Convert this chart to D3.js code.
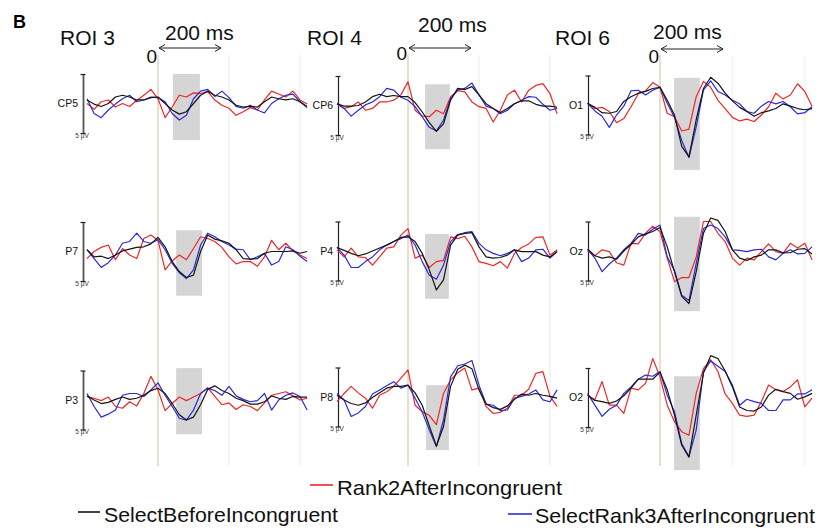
<!DOCTYPE html>
<html>
<head>
<meta charset="utf-8">
<script src="https://cdn.jsdelivr.net/npm/d3@7"></script>
<style>
  html, body { margin: 0; padding: 0; background: #fff; }
  svg { display: block; font-family: "Liberation Sans", Arial, sans-serif; }
</style>
</head>
<body>
<svg id="chart" width="823" height="528"></svg>
<script>
// ---------------- DATA ----------------
const timesMs = [-200,-180,-160,-140,-120,-100,-80,-60,-40,-20,0,20,40,60,80,100,120,140,160,180,200,220,240,260,280,300,320,340,360,380,400,420];
const roiLabels = ["ROI 3", "ROI 4", "ROI 6"];
const channels = ["CP5", "CP6", "O1", "P7", "P4", "Oz", "P3", "P8", "O2"];
const seriesNames = ["SelectBeforeIncongruent", "Rank2AfterIncongruent", "SelectRank3AfterIncongruent"];
const scaleBarLabel = "5 µV";
const scaleBarUv = [-5, 5];
const onsetLabel = "0";
const durationLabel = "200 ms";
const gridMs = [200, 400];

// amplitudes in µV (positive plotted downward)
const cp5Black = [-0.6,0.1,0.5,0,-1.1,-1.4,-1.1,-0.6,-0.6,-1.0,-1.1,0,1.1,1.8,1.4,0,-1.4,-2.1,-1.4,-1.1,-0.6,0.3,0.6,0.5,0.6,-0.3,-1.1,-0.8,-0.6,-0.8,-0.3,0.5];
const cp5Red   = [0,1.0,-0.3,-0.6,0.6,0,0.5,-0.5,-1.4,-2.4,-0.8,2.4,0.6,-1.4,-1.1,-1.8,-1.7,-2.0,-0.6,0.3,0.8,2.0,1.4,0.7,1.1,-0.6,-2.1,-1.6,-1.1,-2.1,-0.6,0.1];
const cp5Blue  = [-0.8,1.7,2.4,1.1,0.1,-0.8,-1.4,-0.3,-0.6,-1.1,-1.0,-0.3,1.7,2.8,2.0,-0.8,-2.1,-2.4,-1.2,-2.1,-1.0,0.5,0.8,0.3,1.1,1.6,0,-0.8,-1.4,-1.6,-0.3,0.7];

const cp6Black = [-0.3,0.1,0.1,0,-0.6,-1.5,-1.9,-1.5,-1.7,-1.5,-1.5,-0.5,1.1,2.9,4.4,3.1,-0.9,-2.9,-2.7,-3.2,-1.8,-0.3,0.5,1.2,0.5,-0.3,-0.8,-0.8,-0.2,0.1,0.1,0.3];
const cp6Red   = [-0.3,0.5,0.2,-0.6,0.8,0.5,-0.6,-0.6,-0.9,-1.8,-4.0,0.8,1.8,1.9,0.8,1.4,-1.5,-2.5,-2.3,-0.6,0.2,0.5,2.8,0.8,-1.8,-2.6,-0.6,-2.6,-3.4,-3.7,-2.0,1.4];
const cp6Blue  = [-0.3,0.5,1.8,0.8,-0.1,-0.6,-1.5,-2.9,-2.6,-1.4,-0.9,0.2,1.9,3.7,4.3,2.5,-1.2,-2.6,-2.9,-3.8,-1.8,0.1,0.5,1.4,0.8,-0.3,-0.9,-1.5,-1.4,-0.2,0.8,0.5];

const o1Black = [-0.3,0.4,1.3,1.4,1.1,-0.6,-1.4,-2.0,-2.3,-2.8,-3.0,-0.8,1.7,7.0,8.8,2.5,-2.8,-4.7,-3.7,-2.0,-0.7,0.4,1.1,1.9,1.3,1.0,0.6,-0.2,0.2,0.6,0.8,0.6];
const o1Red   = [-0.3,0.6,0.4,1.1,3.0,2.3,0.3,-1.9,-2.4,-3.8,-3.0,1.4,2.0,4.4,4.1,-1.4,-4.0,-3.0,-0.8,0.6,2.1,2.7,2.4,2.8,1.7,0.3,-2.0,-1.0,-1.7,-3.6,-2.3,0.2];
const o1Blue  = [-0.3,1.0,1.9,3.8,1.7,0.2,-2.4,-2.5,-1.7,-2.5,-3.0,-0.3,2.1,6.0,8.9,3.7,-2.5,-4.1,-2.3,-1.7,-0.8,-0.2,1.1,1.4,0.2,-0.6,-0.2,-0.6,0.3,1.5,1.3,0.3];

const p7Black = [-0.3,0.9,0.8,1.2,0.6,-0.1,-0.4,-0.7,-0.8,-1.3,-2.4,-0.8,1.7,3.4,4.4,4.0,0,-2.8,-2.1,-1.8,-1.4,-0.3,1.2,1.3,1.2,0.3,0,0,0,-0.1,0.3,0];
const p7Red   = [1.2,0,-0.7,-1.1,1.4,-0.5,0.6,1.2,-2.2,-2.8,-1.9,3.1,1.6,0.6,1.4,-0.5,-2.5,-2.2,-1.7,-0.7,0.9,2.1,1.7,1.7,2.5,0.9,-1.9,-0.3,-1.4,-0.1,0.6,1.2];
const p7Blue  = [-0.3,1.2,2.7,1.9,0.6,-1.4,-1.7,-3.1,-1.7,-1.4,-2.0,-0.3,2.0,3.6,4.6,3.1,-1.1,-3.1,-2.5,-1.7,-1.1,-0.4,-0.3,1.4,0.9,0.3,2.3,1.7,-0.8,-0.3,0.8,1.7];

const p4Black = [-0.6,-0.1,0.4,0.8,0.5,0,-0.5,-1.0,-1.6,-2.3,-2.4,-1.6,0.4,3.2,6.6,4.9,-1.0,-2.7,-3.0,-3.1,-0.7,1.0,1.2,1.1,0.7,-0.2,0.1,0.1,0.1,0.7,1.0,0.1];
const p4Red   = [-0.2,1.0,-0.5,1.0,1.1,2.4,1.0,-0.5,-0.7,-2.7,-3.8,1.2,0.7,2.8,1.8,1.6,-2.4,-2.1,-2.5,-0.7,1.8,2.1,2.5,1.8,2.9,0.4,-0.6,-1.2,-2.3,-2.4,0.7,-0.2];
const p4Blue  = [-0.6,0.7,2.8,2.8,1.8,1.0,-0.2,-1.0,-1.6,-2.1,-2.7,-1.0,1.8,4.1,4.8,2.4,-1.6,-2.8,-3.1,-3.3,-1.3,-0.2,0.4,0.8,0.4,-0.2,1.8,1.2,-0.2,-0.3,1.2,0.1];

const ozBlack = [-0.3,0.8,1.2,1.0,1.4,0,-1.1,-2.4,-2.9,-3.3,-4.0,-0.7,3.5,7.7,8.9,3.5,-3.0,-5.6,-5.2,-3.3,-0.2,1.2,1.6,1.0,0.7,-0.2,-0.2,0.3,0.3,-0.3,-0.4,0.5];
const ozRed   = [0,0.8,-0.2,0.1,2.0,2.4,-1.3,-1.2,-3.0,-4.2,-3.3,1.2,5.2,4.5,4.5,1.0,-5.0,-5.0,-3.0,-1.6,1.2,2.4,1.2,1.5,0.1,-1.2,0.1,0.4,-1.3,-0.5,-1.3,1.5];
const ozBlue  = [-0.3,1.2,3.5,2.2,1.2,-0.2,-1.3,-3.0,-2.7,-3.7,-4.4,1.0,3.3,7.5,8.4,2.1,-3.8,-4.4,-3.8,-2.4,-0.2,-0.1,0.1,-0.2,-0.3,1.0,1.5,0.4,-0.2,0.5,0.4,-0.7];

const p3Black = [-0.7,0,0.6,0.4,-0.1,-0.5,-0.1,-0.3,-0.8,-1.6,-2.0,-1.1,0.6,2.5,3.4,2.9,0.8,-1.8,-2.4,-1.6,-1.1,-0.3,0.1,0.7,0.7,0.3,-0.7,-0.3,-0.1,-0.6,-0.5,-0.5];
const p3Red   = [-0.6,-0.3,0.1,-0.5,1.1,1.4,0.3,1.0,-1.1,-4.0,-1.7,1.8,0.6,-0.5,0.1,-0.5,-1.1,-2.1,-0.6,0.8,0.5,1.6,0.8,1.1,1.8,0.5,-0.8,-1.1,-1.4,-0.7,0,-0.3];
const p3Blue  = [-1.1,1.1,2.9,2.4,1.7,-0.8,-1.1,-1.1,-0.6,-1.7,-2.9,-0.8,1.1,3.1,3.4,1.7,-1.1,-2.0,-1.6,-0.8,-2.3,-0.7,-0.1,0.3,0.1,-1.1,1.7,0,-0.8,-1.2,-0.6,1.7];

const p8Black = [-0.3,0.5,1.1,1.4,1.0,0.1,-0.7,-1.5,-1.8,-1.8,-2.0,-0.7,1.4,4.9,8.3,5.0,-1.8,-4.7,-5.4,-4.8,-1.2,1.2,1.8,2.1,1.5,0.4,-0.5,-0.3,-0.6,-0.3,-0.1,0.2];
const p8Red   = [0.8,-0.6,-1.8,-0.7,0.2,1.9,-0.3,-0.9,-1.8,-3.2,-4.6,1.4,2.5,3.1,4.7,-0.6,-2.9,-4.1,-4.9,-1.2,-1.5,1.6,2.8,2.6,1.9,-0.3,-0.3,-1.3,-4.0,-4.3,-0.1,1.6];
const p8Blue  = [-0.6,0.5,3.3,2.7,1.6,-0.5,-1.2,-1.9,-2.6,-1.5,-2.0,0.2,2.5,5.6,8.4,3.9,-3.4,-5.3,-5.6,-6.2,-2.0,1.2,1.4,2.3,2.2,0.2,-0.1,-0.5,-1.2,0.5,0.8,-1.2];

const o2Black = [-0.4,0.5,0.7,1.0,0.6,-0.3,-1.6,-3.1,-3.1,-3.1,-4.3,-1.3,3.0,8.1,10.1,3.0,-4.1,-7.1,-6.6,-4.5,-1.8,1.6,2.2,2.3,1.6,-0.4,-1.4,-1.0,-0.7,0.3,-0.1,-0.7];
const o2Red   = [-0.4,0.4,-2.7,1.3,1.3,2.7,-1.6,-1.3,-2.4,-6.6,-3.5,1.3,4.1,5.8,6.4,-0.7,-4.9,-6.4,-4.4,-0.6,1.0,3.0,3.2,3.0,0.7,-2.1,-1.3,-1.0,-1.8,-3.0,1.6,0.1];
const o2Blue  = [-0.7,1.3,3.2,2.0,1.3,-0.7,-1.8,-3.1,-3.8,-3.6,-4.4,-0.4,2.4,7.8,10.0,5.5,-4.4,-6.2,-5.3,-4.4,-2.1,1.3,0.3,0.7,1.0,2.2,2.2,0.4,0.4,-0.6,-0.6,-1.3];

// grey analysis windows per channel (ms / µV)
const boxStartMs = [42, 48, 39, 51, 48, 39, 51, 51, 39];
const boxEndMs   = [118, 118, 110, 124, 115, 110, 124, 115, 110];
const boxMinUv   = [-5.0, -3.6, -4.6, -3.6, -2.9, -5.8, -5.4, -2.0, -3.6];
const boxMaxUv   = [6.2, 7.4, 11.0, 7.5, 8.1, 10.2, 5.8, 9.0, 12.3];

const panelSeries = [
  [cp5Black, cp5Red, cp5Blue],
  [cp6Black, cp6Red, cp6Blue],
  [o1Black, o1Red, o1Blue],
  [p7Black, p7Red, p7Blue],
  [p4Black, p4Red, p4Blue],
  [ozBlack, ozRed, ozBlue],
  [p3Black, p3Red, p3Blue],
  [p8Black, p8Red, p8Blue],
  [o2Black, o2Red, o2Blue]
];

// ---------------- STYLE / LAYOUT ----------------
const seriesColors = ["#151515", "#ee2626", "#2a2ad8"];
const drawOrder = [1, 2, 0];
const colX0 = [158, 408, 660];
const colPxPerMs = [0.355, 0.355, 0.362];
const barX = [83, 338, 588];
const rowYc = [[103.5, 105.5, 105], [251.5, 251, 251], [400, 397, 397.5]];
const pxPerUv = 5.9;

const svg = d3.select("#chart");
svg.append("rect").attr("width", 823).attr("height", 528).attr("fill", "#fff");

const gBack = svg.append("g");
const gFront = svg.append("g");

function xScaleFor(c) {
  const x0 = colX0[c], k = colPxPerMs[c];
  return d3.scaleLinear().domain([-200, 420]).range([x0 - 200 * k, x0 + 420 * k]);
}

// vertical guide lines per column
colX0.forEach((x0, c) => {
  const x = xScaleFor(c);
  gridMs.forEach(ms => {
    gBack.append("line")
      .attr("x1", x(ms)).attr("x2", x(ms))
      .attr("y1", 55).attr("y2", 466)
      .attr("stroke", "#f5f5f5").attr("stroke-width", 2);
  });
  gBack.append("line")
    .attr("x1", x(0)).attr("x2", x(0))
    .attr("y1", 55).attr("y2", 466)
    .attr("stroke", "#dad6b2").attr("stroke-width", 1.4);
});

const line = d3.line();

channels.forEach((ch, i) => {
  const c = i % 3, r = Math.floor(i / 3);
  const yc = rowYc[r][c];
  const x = xScaleFor(c);
  const y = d3.scaleLinear().domain([-5, 5]).range([yc - 5 * pxPerUv, yc + 5 * pxPerUv]);

  // grey window
  gBack.append("rect")
    .attr("x", x(boxStartMs[i])).attr("y", y(boxMinUv[i]))
    .attr("width", x(boxEndMs[i]) - x(boxStartMs[i]))
    .attr("height", y(boxMaxUv[i]) - y(boxMinUv[i]))
    .attr("fill", "#d5d5d5");

  // scale bar via axis
  const ax = gFront.append("g")
    .attr("transform", `translate(${barX[c]},0)`)
    .call(d3.axisLeft(y).tickValues(scaleBarUv).tickSizeOuter(0).tickSizeInner(2.5).tickFormat(""));
  ax.select(".domain").attr("stroke", c === 0 ? "#555" : "#222").attr("stroke-width", c === 0 ? 1.8 : 1.2);
  ax.selectAll(".tick line").attr("x1", -2.5).attr("x2", 2.5).attr("stroke", "#222").attr("stroke-width", 1.2);

  gFront.append("text")
    .attr("x", barX[c] - 1).attr("y", y(5) + 4.5)
    .attr("text-anchor", "middle").attr("font-size", 6.5).attr("fill", "#333")
    .text(scaleBarLabel);

  gFront.append("text")
    .attr("x", barX[c] - 5).attr("y", yc + 3.5)
    .attr("text-anchor", "end").attr("font-size", 10.5).attr("fill", "#111")
    .text(ch);

  drawOrder.forEach(s => {
    const vals = panelSeries[i][s];
    gFront.append("path")
      .attr("d", line(vals.map((v, k) => [x(timesMs[k]), y(v)])))
      .attr("fill", "none")
      .attr("stroke", seriesColors[s])
      .attr("stroke-width", 1.2)
      .attr("stroke-linejoin", "round");
  });
});

// headers
svg.append("text").attr("x", 13).attr("y", 28).attr("font-size", 18).attr("font-weight", "bold").text("B");
const roiX = [60, 307, 555];
const zeroBase = [63, 60, 63];
const durX = [165, 418, 653];
const durBase = [40, 32, 39];
const arrowY = [48, 48, 49];
roiLabels.forEach((lab, c) => {
  svg.append("text").attr("x", roiX[c]).attr("y", 45).attr("font-size", 21).attr("fill", "#111").text(lab);
  svg.append("text").attr("x", colX0[c] - 1).attr("y", zeroBase[c]).attr("text-anchor", "end")
    .attr("font-size", 19).attr("fill", "#111").text(onsetLabel);
  svg.append("text").attr("x", durX[c]).attr("y", durBase[c]).attr("font-size", 21).attr("fill", "#111").text(durationLabel);
  const a = colX0[c] + 1, b = colX0[c] + 63, ay = arrowY[c];
  svg.append("path")
    .attr("d", `M${a},${ay}H${b} M${a + 6},${ay - 3.5}L${a},${ay}L${a + 6},${ay + 3.5} M${b - 6},${ay - 3.5}L${b},${ay}L${b - 6},${ay + 3.5}`)
    .attr("fill", "none").attr("stroke", "#222").attr("stroke-width", 1);
});

// legend
const legendPos = [
  {lx1: 78, lx2: 100, ly: 512, tx: 104, ty: 522, w: 234},
  {lx1: 310, lx2: 333, ly: 485, tx: 337, ty: 495, w: 225},
  {lx1: 508, lx2: 532, ly: 514, tx: 535, ty: 523, w: 280}
];
seriesNames.forEach((name, s) => {
  const p = legendPos[s];
  svg.append("line").attr("x1", p.lx1).attr("x2", p.lx2).attr("y1", p.ly).attr("y2", p.ly)
    .attr("stroke", seriesColors[s]).attr("stroke-width", 1.6);
  svg.append("text").attr("x", p.tx).attr("y", p.ty).attr("font-size", 21)
    .attr("textLength", p.w).attr("lengthAdjust", "spacingAndGlyphs")
    .attr("fill", "#111").text(name);
});
</script>
</body>
</html>
